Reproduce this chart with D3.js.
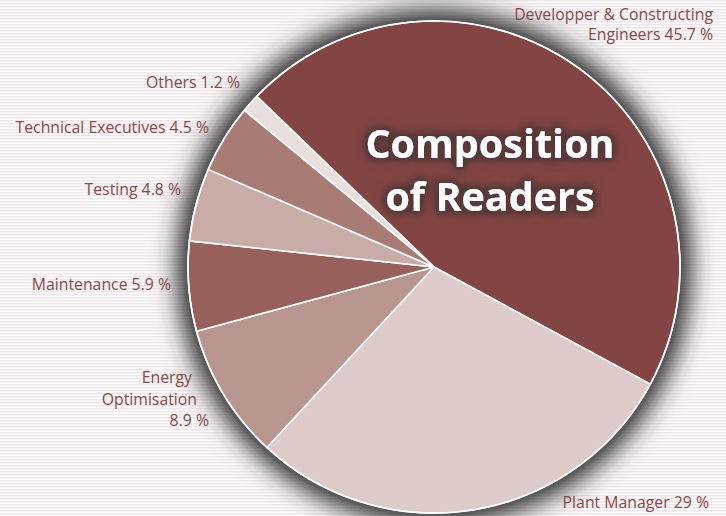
<!DOCTYPE html>
<html>
<head>
<meta charset="utf-8">
<script src="https://cdn.jsdelivr.net/npm/d3@7"></script>
<style>
  html, body { margin: 0; padding: 0; background: #fff; }
  svg { display: block; }
</style>
</head>
<body>
<svg id="Target" width="726" height="516"></svg>
<script>
// values, clockwise from the big slice
const categories = ["Developper & Constructing Engineers", "Plant Manager", "Energy Optimisation",
    "Maintenance", "Testing", "Technical Executives", "Others"];
const shares = [45.7, 29, 8.9, 5.9, 4.8, 4.5, 1.2];
const labelLines = [
    ["Developper & Constructing", "Engineers 45.7 %"],
    ["Plant Manager 29 %"],
    ["Energy", "Optimisation", "8.9 %"],
    ["Maintenance 5.9 %"],
    ["Testing 4.8 %"],
    ["Technical Executives 4.5 %"],
    ["Others 1.2 %"]
];
const titleLines = ["Composition", "of Readers"];

const width = 726, height = 516;
const cx = 434, cy = 267, radius = 246;

const svg = d3.select("#Target");
const defs = svg.append("defs");

// striped backdrop
const stripes = defs.append("pattern")
    .attr("id", "stripes")
    .attr("width", 8).attr("height", 3)
    .attr("patternUnits", "userSpaceOnUse");
stripes.append("rect").attr("width", 8).attr("height", 3).attr("fill", "#fdfbfc");
stripes.append("rect").attr("width", 8).attr("height", 1.4).attr("fill", "#f0e6ea");

defs.append("filter").attr("id", "pieShadow")
    .attr("filterUnits", "userSpaceOnUse")
    .attr("x", -400).attr("y", -400).attr("width", 800).attr("height", 800)
    .append("feGaussianBlur").attr("stdDeviation", 12);

const glow = defs.append("filter").attr("id", "titleGlow")
    .attr("x", "-20%").attr("y", "-40%").attr("width", "140%").attr("height", "180%");
glow.append("feMorphology").attr("in", "SourceAlpha").attr("operator", "dilate").attr("radius", 2.5).attr("result", "fat");
glow.append("feGaussianBlur").attr("in", "fat").attr("stdDeviation", 5).attr("result", "blur");
glow.append("feColorMatrix").attr("in", "blur").attr("type", "matrix")
    .attr("values", "0 0 0 0 0.1  0 0 0 0 0.04  0 0 0 0 0.04  0 0 0 1.5 0").attr("result", "dark");
const merge = glow.append("feMerge");
merge.append("feMergeNode").attr("in", "dark");
merge.append("feMergeNode").attr("in", "SourceGraphic");

svg.append("rect")
    .attr("width", width).attr("height", height)
    .attr("fill", "url(#stripes)");

const color = d3.scaleOrdinal()
    .domain(categories)
    .range(["#834543", "#dccbc8", "#b9958f", "#98605a", "#c9aca6", "#a97b75", "#e9dfdd"]);

const pie = d3.pie()
    .sort(null)
    .startAngle(-46.1 * Math.PI / 180)
    .endAngle((360 - 46.1) * Math.PI / 180)
    .value(d => d.share);

const arc = d3.arc().innerRadius(0).outerRadius(radius);

const slices = pie(categories.map((c, i) => ({category: c, share: shares[i]})));

const g = svg.append("g").attr("transform", `translate(${cx},${cy})`);

// soft grey halo behind the pie
g.append("circle")
    .attr("r", radius + 11)
    .attr("fill", "#2a2a2a")
    .attr("filter", "url(#pieShadow)");

g.selectAll("path.slice")
    .data(slices)
    .join("path")
    .attr("class", "slice")
    .attr("d", arc)
    .attr("fill", d => color(d.data.category))
    .attr("stroke", "#fff")
    .attr("stroke-width", 1.6)
    .attr("stroke-linejoin", "round");

g.append("circle")
    .attr("r", radius)
    .attr("fill", "none")
    .attr("stroke", "#fff")
    .attr("stroke-width", 1.6);

// hand placed label anchors (right edge of text, first baseline)
const labelLayout = {
    "Developper & Constructing Engineers": {x: 713, y: 20, step: 20},
    "Plant Manager": {x: 709, y: 508, step: 20},
    "Energy Optimisation": {x: [192, 197, 209], y: 383, step: 21.5},
    "Maintenance": {x: 171, y: 290, step: 20},
    "Testing": {x: 181, y: 195, step: 20},
    "Technical Executives": {x: 209, y: 133, step: 20},
    "Others": {x: 240, y: 88, step: 20}
};

const labels = svg.selectAll("text.label")
    .data(slices)
    .join("text")
    .attr("class", "label")
    .attr("text-anchor", "end")
    .attr("font-family", "'Open Sans', 'Noto Sans', sans-serif")
    .attr("font-size", 15.8)
    .attr("fill", "#8a4846");

labels.selectAll("tspan")
    .data((d, i) => labelLines[i].map((t, j) => ({t, j, lay: labelLayout[d.data.category]})))
    .join("tspan")
    .attr("x", d => Array.isArray(d.lay.x) ? d.lay.x[d.j] : d.lay.x)
    .attr("y", d => d.lay.y + d.j * d.lay.step)
    .text(d => d.t);

svg.append("text")
    .attr("text-anchor", "middle")
    .attr("font-family", "'Open Sans', 'Noto Sans', sans-serif")
    .attr("font-weight", 700)
    .attr("font-size", 39.5)
    .attr("fill", "#fff")
    .attr("filter", "url(#titleGlow)")
    .selectAll("tspan")
    .data(titleLines)
    .join("tspan")
    .attr("x", 490)
    .attr("y", (d, i) => 158 + i * 53)
    .text(d => d);
</script>
</body>
</html>
